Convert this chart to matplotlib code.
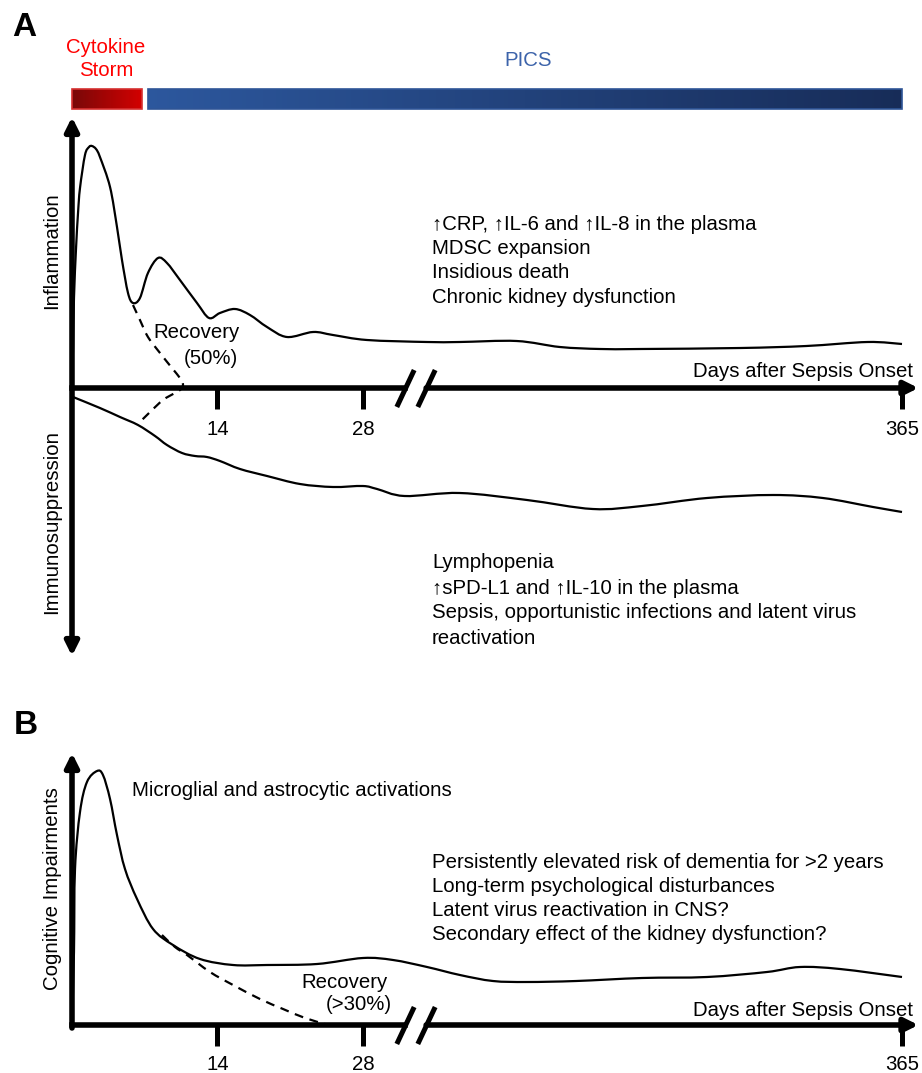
import numpy as np
import matplotlib
matplotlib.use("Agg")
from matplotlib import pyplot as plt
from matplotlib.colors import LinearSegmentedColormap
from matplotlib.path import Path
from matplotlib.patches import PathPatch

W, H = 922, 1073
plt.rcParams['font.family'] = ['Liberation Sans', 'DejaVu Sans']
FS = 14.7

# phases shown in the bar above panel A (days)
phase_names = ['Cytokine\nStorm', 'PICS']
phase_start = [0, 7.3]
phase_end = [6.7, 365]

tick_days = [14, 28, 365]

# panel A, upper half: inflammation (arbitrary level, 0 = time axis)
inflam_days = [0, 0.1, 0.19, 0.39, 0.58, 0.77, 1.25, 1.64, 1.92, 2.31, 2.69,
               3.66, 4.33, 4.81, 5.39, 5.87, 6.54, 7.31, 8.28, 9.14, 10.39,
               12.03, 13.19, 14.24, 15.69, 17.13, 18.77, 20.69, 23.2, 25.12,
               28.39, 47, 69, 107, 136, 163, 190, 257, 301, 342, 365]
inflam_level = [0, 40, 90, 140, 175, 200, 233, 241, 242, 239, 231,
                201, 161, 128, 95, 85, 90, 115, 130, 125, 108,
                85, 70, 75, 79, 73, 61, 51, 56, 53,
                48, 46, 46, 47, 41, 39, 39, 40, 42, 46, 44]

# recovery path in panel A (dashed)
recov_a_days = [5.87, 6.54, 7.31, 8.47, 9.62, 10.39, 10.68, 10.5, 9.9, 8.76, 7.51, 6.35]
recov_a_level = [83, 68, 51, 35, 20, 10, 4, -1, -5, -12, -24, -36]

# panel A, lower half: immunosuppression
immuno_days = [0.1, 2.69, 4.62, 6.35, 7.99, 9.14, 10.59, 11.84, 12.99, 14.24,
               16.17, 18.77, 21.94, 25.12, 28.0, 29.36, 32, 69, 114, 158,
               191, 234.5, 278.7, 312, 345.6, 365]
immuno_level = [-9, -20, -29, -37, -48, -57, -65, -68, -69, -73,
                -81, -88, -96, -99, -98, -101, -108, -105, -112, -121,
                -118, -110, -107, -110, -119, -124]

# panel B: cognitive impairments
cog_days = [0, 0.19, 0.29, 0.77, 1.44, 2.41, 2.98, 3.66, 4.33, 5.10,
            6.26, 7.80, 9.72, 12.32, 15.50, 18.77, 23.58, 28, 30.9, 47.1,
            69.1, 91.2, 114, 147, 191, 234.5, 274.6, 296.7, 323.5, 365]
cog_level = [0, 73, 156, 213, 243, 254, 250, 226, 190, 156,
             126, 96, 80, 66, 60, 60, 61, 67, 65, 58,
             50, 44, 43, 44, 47, 48, 53, 58, 56, 48]

recov_b_days = [8.66, 9.91, 11.07, 13.28, 15.5, 18.09, 20.31, 22.43, 24.35]
recov_b_level = [90, 78, 70, 53, 40, 26, 16, 7, 1]

inflam_notes = ['\u2191CRP, \u2191IL-6 and \u2191IL-8 in the plasma',
                'MDSC expansion',
                'Insidious death',
                'Chronic kidney dysfunction']
immuno_notes = ['Lymphopenia',
                '\u2191sPD-L1 and \u2191IL-10 in the plasma',
                'Sepsis, opportunistic infections and latent virus',
                'reactivation']
cog_notes = ['Persistently elevated risk of dementia for >2 years',
             'Long-term psychological disturbances',
             'Latent virus reactivation in CNS?',
             'Secondary effect of the kidney dysfunction?']

# broken time axis: first month linear, the rest squeezed
BREAK = 32.0
SQUEEZE = 0.1438
AXIS_GAP = (32.5, 46.5)


def fwd(d):
    d = np.asarray(d, dtype=float)
    return np.where(d <= BREAK, d, BREAK + (d - BREAK) * SQUEEZE)


def inv(f):
    f = np.asarray(f, dtype=float)
    return np.where(f <= BREAK, f, BREAK + (f - BREAK) / SQUEEZE)


fig = plt.figure(figsize=(W / 100, H / 100), dpi=100)


def px_rect(x0, y0, x1, y1):
    return [x0 / W, 1 - y1 / H, (x1 - x0) / W, (y1 - y0) / H]


def put(x, y, s, **kw):
    kw.setdefault('fontsize', FS)
    kw.setdefault('va', 'center')
    fig.text(x / W, 1 - y / H, s, **kw)


def arrow(ax, start, end, style):
    ax.annotate('', xy=end, xytext=start, annotation_clip=False,
                arrowprops=dict(arrowstyle=style + ',head_length=0.4,head_width=0.2',
                                lw=4, color='k', shrinkA=0, shrinkB=0,
                                mutation_scale=20))


def setup(ax, ylim, pad):
    ax.set_xscale('function', functions=(fwd, inv))
    ax.set_xlim(float(inv(-3.08)), float(inv(81.81)))
    ax.set_ylim(*ylim)
    for side in ('left', 'right', 'top'):
        ax.spines[side].set_visible(False)
    sp = ax.spines['bottom']
    sp.set_position(('data', 0))
    sp.set_bounds(0, AXIS_GAP[0])
    sp.set_linewidth(4)
    ax.set_yticks([])
    ax.set_xticks(tick_days, labels=[str(d) for d in tick_days])
    ax.tick_params(axis='x', direction='out', length=15, width=3.6,
                   pad=pad, labelsize=FS)
    ax.patch.set_visible(False)
    # rest of the time axis after the break
    arrow(ax, (AXIS_GAP[1], 0), (376, 0), '-|>')
    ax.plot(AXIS_GAP, [0, 0], ls='none', marker=[(-0.47, -1), (0.47, 1)],
            markersize=26.6, mew=3.6, color='k', clip_on=False)


def smooth_line(ax, days, level, **kw):
    # hand-drawn look: Catmull-Rom curve through the points, built on the
    # scaled (linear) axis coordinates
    p = np.column_stack([fwd(days), np.asarray(level, dtype=float)])
    verts, codes = [p[0]], [Path.MOVETO]
    n = len(p)
    for i in range(n - 1):
        p0 = p[max(i - 1, 0)]
        p1, p2 = p[i], p[i + 1]
        p3 = p[min(i + 2, n - 1)]
        verts += [p1 + (p2 - p0) / 6, p2 - (p3 - p1) / 6, p2]
        codes += [Path.CURVE4] * 3
    verts = np.array(verts)
    verts[:, 0] = inv(verts[:, 0])
    ax.add_patch(PathPatch(Path(verts, codes), fill=False, edgecolor='k',
                           lw=1.6, joinstyle='round', capstyle='butt', **kw))


def gradient_bar(ax, start, end, y0, height, c0, c1, edge, n=400):
    cmap = LinearSegmentedColormap.from_list('grad', [c0, c1])
    edges = inv(np.linspace(fwd(start), fwd(end), n + 1))
    cols = cmap(np.linspace(0, 1, n))
    ax.bar(edges[:-1], height, width=np.diff(edges), bottom=y0, align='edge',
           color=cols, linewidth=0, antialiased=False)
    ax.bar(start, height, width=end - start, bottom=y0, align='edge',
           fill=False, edgecolor=edge, linewidth=1.2)


axA = fig.add_axes(px_rect(40, 0, 922, 665))
axB = fig.add_axes(px_rect(40, 690, 922, 1073))
setup(axA, (-277, 388), 8)
setup(axB, (-48, 335), 6.5)

# ---- panel A ----
arrow(axA, (0, -268), (0, 271), '<|-|>')
smooth_line(axA, inflam_days, inflam_level)
smooth_line(axA, immuno_days, immuno_level)
smooth_line(axA, recov_a_days, recov_a_level, linestyle=(0, (4, 3)))

bar_style = [('#780808', '#d20000', '#d63030'), ('#2c579d', '#172c58', '#2f5597')]
for s, e, (c0, c1, ec) in zip(phase_start, phase_end, bar_style):
    gradient_bar(axA, s, e, 279, 20, c0, c1, ec)

put(106, 59, phase_names[0], ha='center', color='#ff0000', linespacing=1.3)
put(528, 60, phase_names[1], ha='center', color='#3c63aa')

put(24, 28, 'A', fontsize=24, weight='bold', ha='center')
put(52, 251, 'Inflammation', rotation=90, ha='center')
put(52, 522, 'Immunosuppression', rotation=90, ha='center')
put(913, 372, 'Days after Sepsis Onset', ha='right')
put(240, 333, 'Recovery', ha='right')
put(238, 358, '(50%)', ha='right')
for i, line in enumerate(inflam_notes):
    put(432, 225 + 24 * i, line)
for i, line in enumerate(immuno_notes):
    put(432, 563 + 25 * i, line)

# ---- panel B ----
arrow(axB, (0, -3), (0, 272), '-|>')
smooth_line(axB, cog_days, cog_level)
smooth_line(axB, recov_b_days, recov_b_level, linestyle=(0, (4, 3)))

put(26, 726, 'B', fontsize=24, weight='bold', ha='center')
put(53, 889, 'Cognitive Impairments', rotation=90, ha='center')
put(913, 1010, 'Days after Sepsis Onset', ha='right')
put(132, 790, 'Microglial and astrocytic activations')
put(388, 982, 'Recovery', ha='right')
put(392, 1005, '(>30%)', ha='right')
for i, line in enumerate(cog_notes):
    put(432, 862 + 24 * i, line)

fig.savefig('out.png', dpi=100)
